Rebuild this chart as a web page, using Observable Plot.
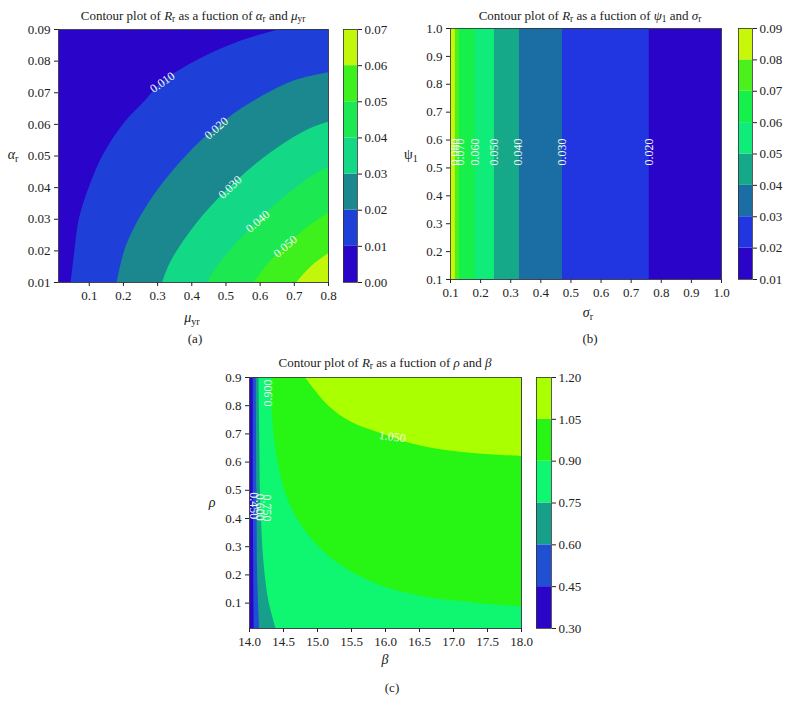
<!DOCTYPE html>
<html><head><meta charset="utf-8">
<script src="https://cdn.jsdelivr.net/npm/d3@7"></script>
<script src="https://cdn.jsdelivr.net/npm/@observablehq/plot@0.6"></script>
<style>
body{margin:0;background:#fff;}
#root{position:relative;width:790px;height:713px;overflow:hidden;font-family:"Liberation Serif","DejaVu Serif",serif;color:#222;}
.abs{position:absolute;white-space:nowrap;transform:translate(-50%,-50%);font-size:13px;line-height:1;}
.abs sub{font-size:0.72em;vertical-align:-0.3em;line-height:0;font-style:normal;}
svg{position:absolute;overflow:visible;}
</style></head><body><div id="root"></div>
<script>
// ---------- Panel (a): R_r vs mu_yr (x) and alpha_r (y) ----------
const aLevels = [0.00, 0.01, 0.02, 0.03, 0.04, 0.05, 0.06, 0.07];
const aColors = ["#2a04c9", "#1f40d8", "#1b878f", "#13d987", "#1ce851", "#3ef01c", "#c2f70c"];
const aXTicks = [0.1, 0.2, 0.3, 0.4, 0.5, 0.6, 0.7, 0.8];
const aYTicks = [0.01, 0.02, 0.03, 0.04, 0.05, 0.06, 0.07, 0.08, 0.09];
// contour boundaries [mu_yr, alpha_r]
const a010 = [[0.047,0.010],[0.058,0.020],[0.071,0.030],[0.100,0.040],[0.140,0.050],[0.200,0.060],[0.266,0.0676],[0.314,0.0733],[0.423,0.0806],[0.543,0.0863],[0.660,0.090]];
const a020 = [[0.182,0.010],[0.209,0.0216],[0.287,0.0371],[0.405,0.0524],[0.472,0.0588],[0.547,0.065],[0.692,0.0734],[0.800,0.0763]];
const a030 = [[0.315,0.010],[0.340,0.0167],[0.409,0.0279],[0.512,0.0401],[0.629,0.0508],[0.736,0.0581],[0.800,0.0607]];
const a040 = [[0.447,0.010],[0.467,0.0138],[0.523,0.0214],[0.603,0.0304],[0.690,0.0386],[0.764,0.0444],[0.800,0.0464]];
const a050 = [[0.582,0.010],[0.630,0.0166],[0.680,0.022],[0.735,0.0271],[0.800,0.032]];
const a060 = [[0.708,0.010],[0.729,0.0127],[0.750,0.015],[0.773,0.017],[0.800,0.0191]];
const aLabelText = ["0.010", "0.020", "0.030", "0.040", "0.050"];
const aLabelX = [0.314, 0.472, 0.512, 0.593, 0.674];
const aLabelY = [0.0733, 0.0588, 0.0401, 0.0293, 0.0214];
const aLabelRot = [-35, -41, -44, -41, -41];

// ---------- Panel (b): R_r vs sigma_r (x) and psi_1 (y) ----------
const bLevels = [0.01, 0.02, 0.03, 0.04, 0.05, 0.06, 0.07, 0.08, 0.09];
const bColors = ["#2a04c9", "#2135e0", "#1b6ea3", "#15a98a", "#10ec7a", "#16f04a", "#4cf01c", "#c8f70a"];
const bXTicks = [0.1, 0.2, 0.3, 0.4, 0.5, 0.6, 0.7, 0.8, 0.9, 1.0];
const bYTicks = [0.1, 0.2, 0.3, 0.4, 0.5, 0.6, 0.7, 0.8, 0.9, 1.0];
// sigma_r where R_r crosses each level 0.02 ... 0.08
const bBoundLevels = [0.02, 0.03, 0.04, 0.05, 0.06, 0.07, 0.08];
const bBoundX = [0.760, 0.472, 0.329, 0.246, 0.183, 0.130, 0.116];
const bLabelText = ["0.020", "0.030", "0.040", "0.050", "0.060", "0.070", "0.080"];
const bLabelX = [0.760, 0.471, 0.326, 0.244, 0.183, 0.131, 0.114];
const bLabelY = 0.557;

// ---------- Panel (c): R_r vs beta (x) and rho (y) ----------
const cLevels = [0.30, 0.45, 0.60, 0.75, 0.90, 1.05, 1.20];
const cColors = ["#2a04c9", "#2050d2", "#16a08a", "#0ff671", "#27f514", "#aaff00"];
const cXTicks = [14.0, 14.5, 15.0, 15.5, 16.0, 16.5, 17.0, 17.5, 18.0];
const cYTicks = [0.1, 0.2, 0.3, 0.4, 0.5, 0.6, 0.7, 0.8, 0.9];
// contour boundaries [beta, rho]
const c045 = [[14.070,0.01],[14.060,0.30],[14.055,0.90]];
const c060 = [[14.150,0.01],[14.120,0.20],[14.110,0.50],[14.100,0.90]];
const c075 = [[14.390,0.01],[14.290,0.10],[14.230,0.20],[14.195,0.30],[14.175,0.40],[14.160,0.50],[14.150,0.70],[14.140,0.90]];
const c090 = [[18.0,0.087],[17.38,0.099],[16.89,0.111],[16.40,0.131],[15.95,0.160],[15.40,0.225],[15.02,0.30],[14.70,0.40],[14.52,0.50],[14.42,0.60],[14.36,0.70],[14.33,0.80],[14.32,0.90]];
const c105 = [[18.0,0.620],[17.38,0.629],[16.89,0.641],[16.40,0.664],[15.95,0.700],[15.50,0.741],[15.16,0.800],[14.82,0.900]];
const cLabelText = ["0.900", "0.750", "0.600", "0.450", "1.050"];
const cLabelX = [14.28, 14.25, 14.145, 14.06, 16.10];
const cLabelY = [0.845, 0.437, 0.440, 0.445, 0.690];
const cLabelRot = [-90, 90, 90, 90, 8];

// ---------- drawing ----------
const root = document.getElementById("root");
const FONT = "Liberation Serif, DejaVu Serif, serif";
const ML = 46, MR = 4, MT = 4, MB = 30;

function place(svg, left, top) {
  svg.style.left = left + "px";
  svg.style.top = top + "px";
  root.appendChild(svg);
}

function html(x, y, content, size) {
  const d = document.createElement("div");
  d.className = "abs";
  d.style.left = x + "px";
  d.style.top = y + "px";
  if (size) d.style.fontSize = size + "px";
  d.innerHTML = content;
  root.appendChild(d);
}

function contourPanel(o) {
  const marks = [Plot.frame({fill: o.bg, stroke: "none"})];
  for (const L of o.layers) {
    if (L.rect) {
      marks.push(Plot.rect([L], {x1: d => d.x1, x2: d => d.x2, y1: () => o.yDomain[0], y2: () => o.yDomain[1], fill: d => d.color}));
    } else {
      marks.push(Plot.areaX(L.pts, {y: d => d[1], x1: d => d[0], x2: () => o.xDomain[1], fill: L.color, curve: "catmull-rom", clip: true}));
    }
  }
  marks.push(Plot.text(o.labels, {x: "x", y: "y", text: "text", rotate: "rotate", fill: "#f4f8f4", fontSize: 12, fontFamily: FONT}));
  marks.push(Plot.frame({stroke: "#333", strokeWidth: 0.8}));
  const svg = Plot.plot({
    width: o.w + ML + MR, height: o.h + MT + MB,
    marginLeft: ML, marginRight: MR, marginTop: MT, marginBottom: MB,
    style: {fontFamily: FONT, fontSize: "13px", color: "#222", background: "transparent"},
    x: {domain: o.xDomain, ticks: o.xTicks, tickFormat: d3.format(o.xFmt), label: null, tickSize: 4, tickPadding: 4},
    y: {domain: o.yDomain, ticks: o.yTicks, tickFormat: d3.format(o.yFmt), label: null, tickSize: 4, tickPadding: 4},
    marks
  });
  place(svg, o.left - ML, o.top - MT);
}

function colorbar(o) {
  const bands = o.colors.map((c, i) => ({lo: o.levels[i], hi: o.levels[i + 1], color: c}));
  const svg = Plot.plot({
    width: o.w + 1 + 46, height: o.h + 10,
    marginLeft: 1, marginRight: 46, marginTop: 5, marginBottom: 5,
    style: {fontFamily: FONT, fontSize: "13px", color: "#222", background: "transparent"},
    x: {domain: [0, 1], axis: null},
    y: {domain: [o.levels[0], o.levels[o.levels.length - 1]], ticks: o.levels, tickFormat: d3.format(".2f"), axis: "right", label: null, tickSize: 4, tickPadding: 3},
    marks: [
      Plot.rect(bands, {x1: () => 0, x2: () => 1, y1: "lo", y2: "hi", fill: "color"}),
      Plot.frame({stroke: "#333", strokeWidth: 0.8})
    ]
  });
  place(svg, o.left - 1, o.top - 5);
}

// Panel (a)
const aCurves = [a010, a020, a030, a040, a050, a060];
contourPanel({
  left: 58, top: 29, w: 270, h: 253,
  xDomain: [0.01, 0.8], yDomain: [0.01, 0.09], xTicks: aXTicks, yTicks: aYTicks, xFmt: ".1f", yFmt: ".2f",
  bg: aColors[0],
  layers: aCurves.map((pts, i) => ({pts, color: aColors[i + 1]})),
  labels: aLabelText.map((t, i) => ({text: t, x: aLabelX[i], y: aLabelY[i], rotate: aLabelRot[i]}))
});
colorbar({left: 343, top: 29, w: 14, h: 253, levels: aLevels, colors: aColors});

// Panel (b)
contourPanel({
  left: 450, top: 28, w: 271, h: 251,
  xDomain: [0.1, 1.0], yDomain: [0.1, 1.0], xTicks: bXTicks, yTicks: bYTicks, xFmt: ".1f", yFmt: ".1f",
  bg: bColors[0],
  layers: bBoundX.map((bx, i) => ({rect: true, x1: 0.1, x2: bx, color: bColors[i + 1]})),
  labels: bLabelText.map((t, i) => ({text: t, x: bLabelX[i], y: bLabelY, rotate: -90}))
});
colorbar({left: 738, top: 28, w: 14, h: 251, levels: bLevels, colors: bColors});

// Panel (c)
const cCurves = [c045, c060, c075, c090, c105];
contourPanel({
  left: 249, top: 377, w: 272, h: 251,
  xDomain: [14, 18], yDomain: [0.01, 0.9], xTicks: cXTicks, yTicks: cYTicks, xFmt: ".1f", yFmt: ".1f",
  bg: cColors[0],
  layers: cCurves.map((pts, i) => ({pts, color: cColors[i + 1]})),
  labels: cLabelText.map((t, i) => ({text: t, x: cLabelX[i], y: cLabelY[i], rotate: cLabelRot[i]}))
});
colorbar({left: 536, top: 377, w: 15, h: 251, levels: cLevels, colors: cColors});

// Titles, axis labels, captions
html(193, 15, 'Contour plot of <i>R</i><sub>r</sub> as a fuction of <i>α</i><sub>r</sub> and <i>μ</i><sub>yr</sub>');
html(590, 15, 'Contour plot of <i>R</i><sub>r</sub> as a fuction of <i>ψ</i><sub>1</sub> and <i>σ</i><sub>r</sub>');
html(385, 362, 'Contour plot of <i>R</i><sub>r</sub> as a fuction of <i>ρ</i> and <i>β</i>');
html(192, 318, '<i>μ</i><sub>yr</sub>', 14);
html(588, 313, '<i>σ</i><sub>r</sub>', 14);
html(385, 660, '<i>β</i>', 14);
html(13, 155, '<i>α</i><sub>r</sub>', 14);
html(411, 155, 'ψ<sub>1</sub>', 14);
html(212, 503, '<i>ρ</i>', 14);
html(195, 338, '(a)');
html(590, 338, '(b)');
html(392, 687, '(c)');
</script>
</body></html>
